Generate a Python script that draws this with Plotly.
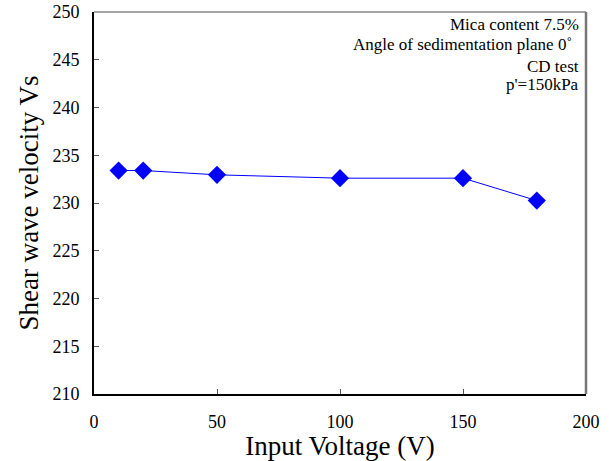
import plotly.graph_objects as go

voltage = [10, 20, 50, 100, 150, 180]
vs = [233.4, 233.4, 232.95, 232.6, 232.6, 230.25]
x_ticks = [0, 50, 100, 150, 200]
y_ticks = [210, 215, 220, 225, 230, 235, 240, 245, 250]
notes = ["Mica content 7.5%", "Angle of sedimentation plane 0\u02da", "CD test", "p'=150kPa"]
note_x = [0.99, 0.975, 0.99, 0.99]
note_y = [0.968, 0.914, 0.858, 0.809]

font = "Times New Roman"

fig = go.Figure()
fig.add_trace(go.Scatter(
    x=voltage, y=vs, mode="lines+markers",
    line=dict(color="#0000FF", width=1),
    marker=dict(symbol="diamond", size=14, color="#0000FF"),
    showlegend=False,
))

for t, xx, yy in zip(notes, note_x, note_y):
    fig.add_annotation(text=t, xref="paper", yref="paper", x=xx, y=yy,
                       xanchor="right", yanchor="middle", showarrow=False,
                       font=dict(family=font, size=17, color="black"))

fig.add_shape(type="line", xref="paper", yref="paper", x0=0, x1=1, y0=1, y1=1,
              line=dict(color="#888888", width=1.5))
fig.add_shape(type="line", xref="paper", yref="paper", x0=1, x1=1, y0=0, y1=1,
              line=dict(color="#777777", width=2.5))

fig.update_layout(
    width=609, height=461,
    margin=dict(l=94, r=23, t=12, b=67),
    paper_bgcolor="white", plot_bgcolor="white",
    font=dict(family=font, color="black"),
    xaxis=dict(range=[0, 200], tickvals=x_ticks, ticks="inside", ticklen=5,
               tickcolor="#555555",
               showline=True, linecolor="black", linewidth=2, showgrid=False,
               zeroline=False, tickfont=dict(size=18, family=font), automargin=False,
               ticklabelstandoff=10,
               title=dict(text="Input Voltage (V)", font=dict(size=27, family=font), standoff=0)),
    yaxis=dict(range=[210, 250], tickvals=y_ticks, ticks="inside", ticklen=5,
               tickcolor="#555555",
               showline=True, linecolor="black", linewidth=2, showgrid=False,
               zeroline=False, tickfont=dict(size=18, family=font), automargin=False,
               ticklabelstandoff=9,
               title=dict(text="Shear wave velocity Vs", font=dict(size=27, family=font), standoff=6)),
)

fig.write_html("out.html", config={"displayModeBar": False},
               post_script="document.body.style.margin='0';")
